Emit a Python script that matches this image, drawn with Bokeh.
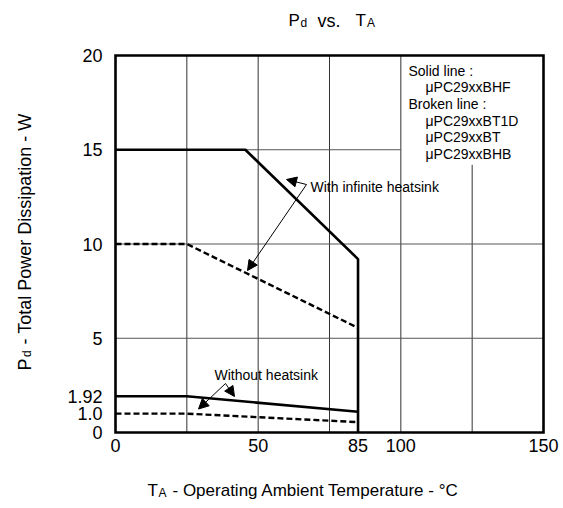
from bokeh.plotting import figure
from bokeh.models import Range1d, FixedTicker, Label, Arrow, NormalHead
from bokeh.embed import file_html
from bokeh.resources import INLINE

FONT = "Liberation Sans"

# ---- data ----
ta_inf_solid = [0, 45.5, 85, 85]          # with infinite heatsink, solid (BHF)
pd_inf_solid = [15, 15, 9.2, 0]
ta_inf_broken = [0, 25, 85]                # with infinite heatsink, broken
pd_inf_broken = [10, 10, 5.55]
ta_free_solid = [0, 25, 85]                # without heatsink, solid
pd_free_solid = [1.92, 1.92, 1.1]
ta_free_broken = [0, 25, 85]               # without heatsink, broken
pd_free_broken = [1.0, 1.0, 0.55]

x_ticks = [0, 50, 85, 100, 150]
x_tick_labels = ["0", "50", "85", "100", "150"]
y_ticks = [0, 1.0, 1.92, 5, 10, 15, 20]
y_tick_labels = ["0", "1.0", "1.92", "5", "10", "15", "20"]

X_MIN, X_MAX = 0, 150
Y_MIN, Y_MAX = 0, 20

grid_x = [25, 50, 75, 100, 125]
grid_x_top = [20, 20, 20, 20, 14.2]
grid_y = [5, 10, 15]
grid_y_right = [150, 150, 100]

legend_lines = ["Solid line :", "\u03bcPC29xxBHF", "Broken line :",
                "\u03bcPC29xxBT1D", "\u03bcPC29xxBT", "\u03bcPC29xxBHB"]

# ---- layout: chart box in canvas pixels ----
W, H = 560, 505
CL, CR, CT, CB = 115, 543, 55, 432
sx = (CR - CL) / (X_MAX - X_MIN)
sy = (CB - CT) / (Y_MAX - Y_MIN)
x_range = Range1d(X_MIN - CL / sx, X_MAX + (W - CR) / sx)
y_range = Range1d(Y_MIN - (H - CB) / sy, Y_MAX + CT / sy)

p = figure(width=W, height=H, output_backend="svg", toolbar_location=None,
           x_range=x_range, y_range=y_range,
           min_border=0, min_border_left=0, min_border_right=0,
           min_border_top=0, min_border_bottom=0)
p.title.visible = False
p.background_fill_color = "white"
p.border_fill_color = "white"
p.outline_line_color = None
p.xgrid.visible = False
p.ygrid.visible = False

for ax in (p.xaxis[0], p.yaxis[0]):
    ax.fixed_location = 0
    ax.axis_line_color = None
    ax.major_tick_line_color = None
    ax.minor_tick_line_color = None
    ax.major_tick_out = 0
    ax.major_tick_in = 0
    ax.major_label_text_font = FONT
    ax.major_label_text_font_size = "18px"
    ax.major_label_text_color = "black"
p.xaxis.ticker = FixedTicker(ticks=x_ticks)
p.yaxis.ticker = FixedTicker(ticks=y_ticks)
p.xaxis.major_label_overrides = dict(zip(x_ticks, x_tick_labels))
p.yaxis.major_label_overrides = dict(zip(y_ticks, y_tick_labels))
p.xaxis.major_label_standoff = 6
p.yaxis.major_label_standoff = 13

# grid drawn as segments (legend area left open)
p.segment(x0=grid_x, y0=[Y_MIN] * len(grid_x), x1=grid_x, y1=grid_x_top,
          line_color="#333333", line_width=1)
p.segment(x0=[X_MIN] * len(grid_y), y0=grid_y, x1=grid_y_right, y1=grid_y,
          line_color="#555555", line_width=1)

# curves
p.line(ta_inf_solid, pd_inf_solid, line_color="black", line_width=2.6)
p.line(ta_inf_broken, pd_inf_broken, line_color="black", line_width=2.4,
       line_dash="6 3")
p.line(ta_free_solid, pd_free_solid, line_color="black", line_width=2.6)
p.line(ta_free_broken, pd_free_broken, line_color="black", line_width=2.4,
       line_dash="6 3")

# chart frame
p.quad(left=[X_MIN], right=[X_MAX], bottom=[Y_MIN], top=[Y_MAX],
       fill_color=None, line_color="black", line_width=2.6, line_join="miter")


# ---- helpers: canvas pixel -> data coordinates for annotations ----
def dx(px):
    return X_MIN + (px - CL) / sx


def dy(py):
    return Y_MIN + (CB - py) / sy


def lab(px, py, text, size, baseline="alphabetic", angle=0):
    p.add_layout(Label(x=dx(px), y=dy(py), text=text, text_font=FONT,
                       text_font_size=f"{size}px", text_color="black",
                       text_align="left", text_baseline=baseline,
                       angle=angle, angle_units="deg"))


def arrow(x0, y0, x1, y1):
    p.add_layout(Arrow(end=NormalHead(size=10, fill_color="black",
                                      line_color="black", line_width=1),
                       x_start=dx(x0), y_start=dy(y0),
                       x_end=dx(x1), y_end=dy(y1),
                       line_color="black", line_width=1))


# title  "Pd vs. TA"
lab(288, 20, "P", 17)
lab(300, 22, "d", 12)
lab(317, 20, "vs.", 18)
lab(355, 20, "T", 17)
lab(366.5, 22, "A", 12)

# x axis title
lab(147, 490, "T", 17)
lab(158, 492, "A", 12)
lab(172, 490, "- Operating Ambient Temperature - \u00b0C", 17)

# y axis title (rotated)
lab(24, 370, "P", 18, angle=90)
lab(26, 356.5, "d", 12, angle=90)
lab(24, 344, "- Total Power Dissipation - W", 18, angle=90)

# legend box text
legend_pos = [(408, 70), (425, 86.7), (408, 103.3), (425, 120), (425, 136.7), (425, 153.3)]
for (lx, ly), t in zip(legend_pos, legend_lines):
    lab(lx, ly, t, 14, baseline="middle")

# annotations
lab(310, 186, "With infinite heatsink", 14, baseline="middle")
arrow(306, 184, 286, 179)
arrow(306, 184, 247, 270)

lab(214, 374, "Without heatsink", 14, baseline="middle")
arrow(225, 383, 234, 396)
arrow(225, 383, 198, 408.5)

open("out.html", "w").write(file_html(p, INLINE))
